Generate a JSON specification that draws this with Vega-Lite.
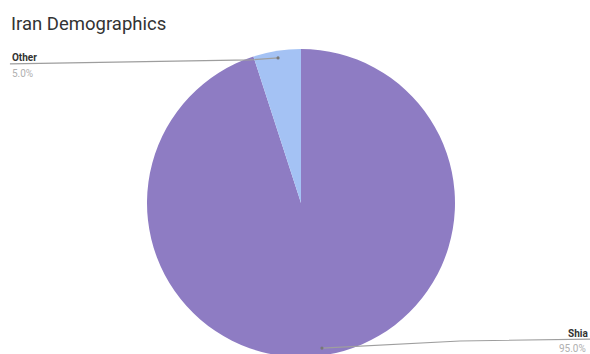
{
  "$schema": "https://vega.github.io/schema/vega-lite/v6.json",
  "autosize": "none",
  "padding": 0,
  "width": 602,
  "height": 406,
  "background": "white",
  "title": {
    "text": "Iran Demographics",
    "anchor": "start",
    "frame": "group",
    "dx": 11,
    "dy": 19,
    "offset": -29,
    "baseline": "alphabetic",
    "font": "Roboto",
    "fontSize": 18.5,
    "fontWeight": "normal",
    "color": "#333333"
  },
  "config": {"view": {"stroke": null}},
  "datasets": {
    "slices": [
      {"group": "Shia", "share": 95.0, "order": 1},
      {"group": "Other", "share": 5.0, "order": 2}
    ],
    "labels": [
      {"group": "Other", "kind": "name", "text": "Other", "u": -1.877, "v": 0.922},
      {"group": "Other", "kind": "pct", "text": "5.0%", "u": -1.877, "v": 0.818},
      {"group": "Shia", "kind": "name", "text": "Shia", "u": 1.734, "v": -0.870},
      {"group": "Shia", "kind": "pct", "text": "95.0%", "u": 1.675, "v": -0.968}
    ],
    "leaders": [
      {"group": "Other", "idx": 1, "u": -1.890, "v": 0.903},
      {"group": "Other", "idx": 2, "u": -0.331, "v": 0.929},
      {"group": "Other", "idx": 3, "u": -0.149, "v": 0.942},
      {"group": "Shia", "idx": 1, "u": 0.136, "v": -0.942},
      {"group": "Shia", "idx": 2, "u": 1.032, "v": -0.896},
      {"group": "Shia", "idx": 3, "u": 1.909, "v": -0.883}
    ],
    "dots": [
      {"group": "Other", "u": -0.149, "v": 0.942},
      {"group": "Shia", "u": 0.136, "v": -0.942}
    ]
  },
  "layer": [
    {
      "data": {"name": "slices"},
      "mark": {"type": "arc", "radius": 154, "stroke": null},
      "encoding": {
        "theta": {"field": "share", "type": "quantitative", "stack": true},
        "order": {"field": "order", "type": "quantitative"},
        "color": {
          "field": "group",
          "type": "nominal",
          "scale": {"domain": ["Shia", "Other"], "range": ["#8e7cc3", "#a4c2f4"]},
          "legend": null
        }
      }
    },
    {
      "data": {"name": "leaders"},
      "mark": {"type": "line", "color": "#9e9e9e", "strokeWidth": 1.2},
      "encoding": {
        "x": {"field": "u", "type": "quantitative", "axis": null, "scale": {"domain": [-1.9545, 1.9545], "nice": false, "zero": false}},
        "y": {"field": "v", "type": "quantitative", "axis": null, "scale": {"domain": [-1.3182, 1.3182], "nice": false, "zero": false}},
        "detail": {"field": "group"},
        "order": {"field": "idx", "type": "quantitative"}
      }
    },
    {
      "data": {"name": "dots"},
      "mark": {"type": "point", "filled": true, "color": "#777777", "size": 10, "opacity": 1},
      "encoding": {
        "x": {"field": "u", "type": "quantitative"},
        "y": {"field": "v", "type": "quantitative"}
      }
    },
    {
      "data": {"name": "labels"},
      "transform": [{"filter": "datum.kind === 'name'"}],
      "mark": {"type": "text", "align": "left", "baseline": "alphabetic", "font": "Roboto", "fontSize": 10, "fontWeight": "bold", "color": "#333333"},
      "encoding": {
        "x": {"field": "u", "type": "quantitative"},
        "y": {"field": "v", "type": "quantitative"},
        "text": {"field": "text"}
      }
    },
    {
      "data": {"name": "labels"},
      "transform": [{"filter": "datum.kind === 'pct'"}],
      "mark": {"type": "text", "align": "left", "baseline": "alphabetic", "font": "Roboto", "fontSize": 10, "color": "#b0b0b0"},
      "encoding": {
        "x": {"field": "u", "type": "quantitative"},
        "y": {"field": "v", "type": "quantitative"},
        "text": {"field": "text"}
      }
    }
  ]
}
